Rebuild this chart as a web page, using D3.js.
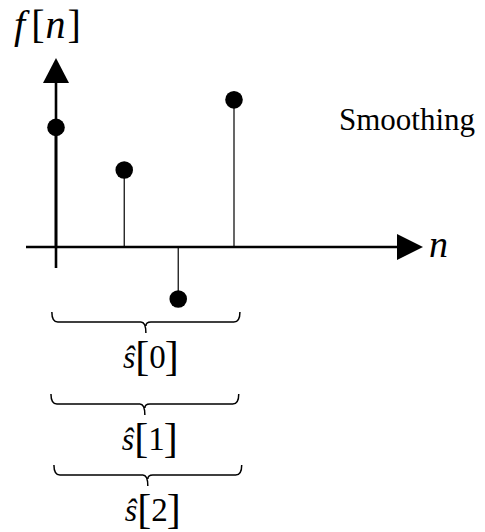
<!DOCTYPE html>
<html>
<head>
<meta charset="utf-8">
<script src="https://cdn.jsdelivr.net/npm/d3@7"></script>
<style>
  body { margin: 0; background: #fff; }
  svg { display: block; }
</style>
</head>
<body>
<svg id="chart"></svg>
<script>
// sample positions (in n units, as drawn) and values
var samplePos = [0, 1.15, 2.06, 3];
var sampleVal = [2.3, 1.48, -1, 2.83];

// smoothing windows: label index, start / end along n
var windowLabels = ['0', '1', '2'];
var windowStart = [-0.07, -0.085, -0.035];
var windowEnd = [3.1, 3.08, 3.13];

var serif = "'Liberation Serif'";
var width = 485, height = 532;

var svg = d3.select('#chart')
    .attr('width', width)
    .attr('height', height);

// scales
var xScale = d3.scaleLinear()
    .domain([0, 3])
    .range([56, 234]);

var yScale = d3.scaleLinear()
    .domain([0, 1])
    .range([247, 195]);

var data = samplePos.map(function(p, i) {
    return {n: p, v: sampleVal[i]};
});

// axes
var x0 = xScale(0), y0 = yScale(0);

svg.append('line')
    .attr('x1', 26).attr('x2', 400)
    .attr('y1', y0).attr('y2', y0)
    .attr('stroke', '#000')
    .attr('stroke-width', 2.6);

svg.append('path')
    .attr('d', `M423,${y0} L397,${y0 - 13} L397,${y0 + 13} Z`)
    .attr('fill', '#000');

svg.append('line')
    .attr('x1', x0).attr('x2', x0)
    .attr('y1', 268).attr('y2', 80)
    .attr('stroke', '#000')
    .attr('stroke-width', 2.6);

svg.append('path')
    .attr('d', `M${x0},58 L${x0 - 13},83 L${x0 + 13},83 Z`)
    .attr('fill', '#000');

// stems
svg.selectAll('.stem')
    .data(data)
    .join('line')
    .attr('class', 'stem')
    .attr('x1', d => xScale(d.n))
    .attr('x2', d => xScale(d.n))
    .attr('y1', y0)
    .attr('y2', d => yScale(d.v))
    .attr('stroke', '#000')
    .attr('stroke-width', d => d.n === 0 ? 2.6 : 1.2);

svg.selectAll('.dot')
    .data(data)
    .join('circle')
    .attr('class', 'dot')
    .attr('cx', d => xScale(d.n))
    .attr('cy', d => yScale(d.v))
    .attr('r', 8.8)
    .attr('fill', '#000');

// labels
var fLabel = svg.append('text')
    .attr('x', 14)
    .attr('y', 38)
    .style('font-family', serif)
    .attr('font-size', 40);
fLabel.append('tspan').attr('font-style', 'italic').text('f');
fLabel.append('tspan').attr('dx', 6).text('[');
fLabel.append('tspan').attr('font-style', 'italic').attr('dx', 1).text('n');
fLabel.append('tspan').attr('dx', 2).text(']');

svg.append('text')
    .attr('x', 429)
    .attr('y', 257)
    .style('font-family', serif)
    .attr('font-size', 38)
    .attr('font-style', 'italic')
    .text('n');

svg.append('text')
    .attr('x', 339)
    .attr('y', 130)
    .style('font-family', serif)
    .attr('font-size', 31)
    .text('Smoothing');

// braces under the samples
var braceLine = [322, 404, 475];

function bracePath(a, b, yl) {
    var c = (a + b) / 2;
    var top = yl - 10, tip = yl + 11;
    return `M${a},${top} Q${a},${yl} ${a + 6},${yl} H${c - 5} Q${c},${yl} ${c},${tip}` +
        ` M${c},${yl + 4} Q${c},${yl} ${c + 5},${yl} H${b - 6} Q${b},${yl} ${b},${top}`;
}

var braces = windowLabels.map(function(l, i) {
    return {label: l, a: xScale(windowStart[i]), b: xScale(windowEnd[i]), y: braceLine[i]};
});

svg.selectAll('.brace')
    .data(braces)
    .join('path')
    .attr('class', 'brace')
    .attr('d', d => bracePath(d.a, d.b, d.y))
    .attr('fill', 'none')
    .attr('stroke', '#000')
    .attr('stroke-width', 1.5);

// s-hat [k] labels, one text each
var lab = svg.selectAll('.slabel')
    .data(braces)
    .join('text')
    .attr('class', 'slabel')
    .attr('x', d => (d.a + d.b) / 2 - 23)
    .attr('y', d => d.y + 46)
    .style('font-family', serif)
    .attr('font-size', 32);

lab.append('tspan')
    .attr('font-style', 'italic')
    .text('ŝ');

lab.append('tspan')
    .attr('font-size', 42)
    .attr('dx', 0)
    .attr('dy', 2)
    .text('[');

lab.append('tspan')
    .attr('font-size', 33)
    .attr('dy', -2)
    .text(d => d.label);

lab.append('tspan')
    .attr('font-size', 42)
    .attr('dx', -1)
    .attr('dy', 2)
    .text(']');
</script>
</body>
</html>
